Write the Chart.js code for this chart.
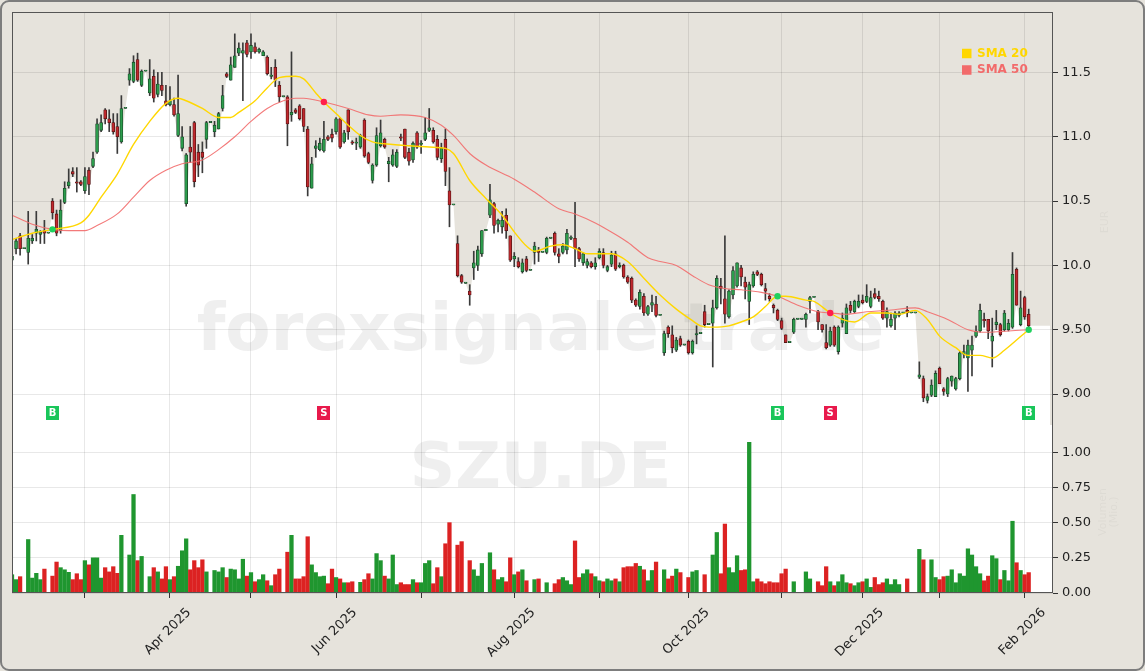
<!DOCTYPE html>
<html>
<head>
<meta charset="utf-8">
<title>SZU.DE</title>
<script src="https://cdn.jsdelivr.net/npm/chart.js@4.4.1/dist/chart.umd.min.js"></script>
<style>
html, body { margin: 0; padding: 0; background: #e6e3dc; }
canvas { display: block; }
</style>
</head>
<body>
<canvas id="myChart" width="1145" height="671"></canvas>
<script>
// trading calendar (Xetra)
const firstDay = '2025-02-05';
const lastDay = '2026-02-03';
const holidays = ['2025-04-18', '2025-04-21', '2025-05-01', '2025-12-24', '2025-12-25',
    '2025-12-26', '2025-12-31', '2026-01-01'];
const monthNames = ['Jan', 'Feb', 'Mar', 'Apr', 'May', 'Jun', 'Jul', 'Aug', 'Sep', 'Oct', 'Nov', 'Dec'];

const open = [
    10.04, 10.13, 10.23, 10.13, 10.10, 10.19, 10.25, 10.24, 10.27, 10.25,
    10.50, 10.40, 10.27, 10.49, 10.62, 10.73, 10.65, 10.65, 10.58, 10.74,
    10.77, 10.88, 11.05, 11.21, 11.14, 11.11, 11.08, 10.96, 11.22, 11.44,
    11.43, 11.60, 11.40, 11.51, 11.34, 11.47, 11.33, 11.40, 11.28, 11.25,
    11.25, 11.01, 10.91, 10.48, 10.92, 11.11, 10.88, 10.88, 10.98, 11.11,
    11.04, 11.06, 11.22, 11.49, 11.44, 11.54, 11.65, 11.65, 11.73, 11.66,
    11.70, 11.66, 11.63, 11.62, 11.47, 11.54, 11.40, 11.31, 11.31, 11.17,
    11.21, 11.24, 11.22, 11.06, 10.60, 10.91, 10.90, 10.89, 11.00, 11.02,
    11.04, 11.14, 10.96, 11.21, 10.96, 10.95, 10.92, 11.13, 10.87, 10.66,
    10.78, 10.93, 10.98, 10.79, 10.78, 10.77, 11.00, 11.06, 10.88, 10.82,
    11.03, 10.94, 10.98, 11.05, 11.05, 10.98, 10.83, 10.98, 10.58, 10.47,
    10.17, 9.92, 9.86, 9.80, 9.98, 10.00, 10.09, 10.27, 10.39, 10.48,
    10.32, 10.30, 10.39, 10.23, 10.05, 10.03, 9.95, 10.05, 9.96, 10.10,
    10.11, 10.10, 10.10, 10.21, 10.25, 10.09, 10.10, 10.12, 10.21, 10.21,
    10.13, 10.02, 10.00, 10.02, 9.99, 10.06, 10.10, 9.96, 10.01, 10.09,
    9.99, 10.00, 9.91, 9.90, 9.73, 9.68, 9.76, 9.62, 9.69, 9.70,
    9.61, 9.32, 9.52, 9.46, 9.34, 9.43, 9.38, 9.41, 9.32, 9.46,
    9.47, 9.64, 9.54, 9.55, 9.67, 9.84, 9.74, 9.60, 9.77, 9.84,
    9.98, 9.87, 9.72, 9.84, 9.95, 9.93, 9.82, 9.76, 9.69, 9.65,
    9.57, 9.46, 9.40, 9.48, 9.58, 9.58, 9.58, 9.72, 9.75, 9.64,
    9.54, 9.40, 9.38, 9.52, 9.33, 9.55, 9.47, 9.69, 9.64, 9.68,
    9.73, 9.72, 9.68, 9.78, 9.76, 9.72, 9.59, 9.53, 9.59, 9.61,
    9.63, 9.65, 9.63, 9.63, 9.13, 9.12, 8.95, 8.99, 8.98, 9.20,
    9.04, 9.00, 9.10, 9.04, 9.12, 9.31, 9.28, 9.34, 9.45, 9.49,
    9.58, 9.58, 9.41, 9.54, 9.54, 9.50, 9.50, 9.52, 9.97, 9.54,
    9.75, 9.62
];
const high = [
    10.10, 10.21, 10.25, 10.13, 10.42, 10.24, 10.42, 10.27, 10.35, 10.25,
    10.52, 10.43, 10.51, 10.65, 10.75, 10.76, 10.76, 10.66, 10.76, 10.76,
    10.88, 11.14, 11.17, 11.22, 11.21, 11.18, 11.18, 11.32, 11.22, 11.53,
    11.63, 11.65, 11.52, 11.51, 11.60, 11.52, 11.50, 11.50, 11.40, 11.39,
    11.30, 11.48, 11.08, 10.87, 11.08, 11.12, 10.94, 10.96, 11.12, 11.11,
    11.12, 11.19, 11.40, 11.50, 11.62, 11.80, 11.73, 11.73, 11.75, 11.80,
    11.73, 11.69, 11.67, 11.63, 11.54, 11.60, 11.43, 11.31, 11.32, 11.66,
    11.22, 11.25, 11.22, 11.08, 10.84, 10.97, 10.99, 11.12, 11.01, 11.06,
    11.15, 11.15, 11.05, 11.21, 10.97, 10.99, 11.02, 11.14, 10.88, 10.79,
    11.07, 11.13, 10.99, 10.84, 10.90, 10.90, 11.02, 11.06, 10.91, 10.96,
    11.04, 10.97, 11.15, 11.22, 11.07, 11.01, 10.95, 11.06, 10.76, 10.47,
    10.23, 9.93, 9.86, 9.85, 10.11, 10.15, 10.27, 10.27, 10.63, 10.49,
    10.36, 10.42, 10.44, 10.23, 10.10, 10.06, 10.05, 10.07, 9.96, 10.18,
    10.14, 10.10, 10.22, 10.21, 10.26, 10.13, 10.17, 10.28, 10.23, 10.49,
    10.14, 10.10, 10.05, 10.03, 10.06, 10.13, 10.13, 10.00, 10.11, 10.11,
    10.02, 10.01, 9.92, 9.91, 9.74, 9.81, 9.78, 9.69, 9.77, 9.76,
    9.61, 9.49, 9.53, 9.53, 9.44, 9.45, 9.38, 9.42, 9.42, 9.53,
    9.47, 9.69, 9.54, 9.73, 9.92, 9.90, 10.23, 9.81, 9.99, 10.02,
    10.00, 9.91, 9.87, 9.95, 9.96, 9.94, 9.86, 9.78, 9.70, 9.66,
    9.59, 9.46, 9.40, 9.59, 9.58, 9.58, 9.63, 9.76, 9.75, 9.65,
    9.54, 9.54, 9.52, 9.53, 9.53, 9.63, 9.70, 9.72, 9.73, 9.77,
    9.77, 9.85, 9.80, 9.82, 9.80, 9.73, 9.67, 9.63, 9.64, 9.64,
    9.63, 9.68, 9.63, 9.63, 9.25, 9.14, 9.00, 9.11, 9.18, 9.21,
    9.05, 9.13, 9.14, 9.13, 9.33, 9.38, 9.42, 9.45, 9.53, 9.70,
    9.63, 9.58, 9.59, 9.65, 9.55, 9.65, 9.58, 10.10, 9.98, 9.80,
    9.76, 9.66
];
const low = [
    10.02, 10.09, 10.08, 10.13, 10.01, 10.17, 10.19, 10.17, 10.17, 10.25,
    10.36, 10.23, 10.25, 10.48, 10.60, 10.69, 10.57, 10.62, 10.56, 10.55,
    10.76, 10.87, 11.04, 11.10, 11.04, 11.02, 10.87, 10.95, 11.22, 11.40,
    11.42, 11.43, 11.39, 11.51, 11.32, 11.27, 11.31, 11.32, 11.24, 11.24,
    11.16, 11.00, 10.89, 10.46, 10.80, 10.61, 10.69, 10.72, 10.91, 11.11,
    11.00, 11.06, 11.20, 11.46, 11.44, 11.54, 11.63, 11.28, 11.62, 11.61,
    11.65, 11.65, 11.63, 11.48, 11.45, 11.39, 11.27, 11.31, 10.93, 11.12,
    11.18, 11.13, 11.04, 10.54, 10.60, 10.84, 10.89, 10.88, 10.97, 10.96,
    11.02, 10.91, 10.95, 10.98, 10.94, 10.90, 10.91, 10.84, 10.79, 10.64,
    10.77, 10.92, 10.91, 10.65, 10.77, 10.76, 10.97, 10.83, 10.78, 10.80,
    10.91, 10.87, 10.97, 11.04, 10.95, 10.82, 10.80, 10.62, 10.30, 10.47,
    9.91, 9.86, 9.86, 9.69, 9.89, 9.96, 10.07, 10.27, 10.37, 10.25,
    10.26, 10.25, 10.21, 10.03, 9.99, 9.98, 9.94, 9.95, 9.96, 10.01,
    10.03, 10.10, 10.09, 10.21, 10.08, 10.02, 10.09, 10.09, 10.20, 9.99,
    10.03, 10.00, 9.98, 9.98, 9.97, 10.05, 9.98, 9.95, 9.99, 9.96,
    9.98, 9.90, 9.86, 9.71, 9.68, 9.66, 9.61, 9.61, 9.64, 9.60,
    9.61, 9.30, 9.44, 9.32, 9.33, 9.37, 9.38, 9.31, 9.31, 9.39,
    9.47, 9.52, 9.54, 9.21, 9.66, 9.70, 9.55, 9.59, 9.74, 9.83,
    9.84, 9.74, 9.54, 9.83, 9.92, 9.84, 9.73, 9.72, 9.63, 9.57,
    9.50, 9.40, 9.40, 9.47, 9.58, 9.58, 9.52, 9.63, 9.75, 9.50,
    9.48, 9.35, 9.37, 9.37, 9.31, 9.52, 9.47, 9.63, 9.63, 9.67,
    9.70, 9.71, 9.67, 9.74, 9.72, 9.58, 9.52, 9.52, 9.50, 9.60,
    9.63, 9.60, 9.63, 9.63, 9.12, 8.94, 8.93, 8.98, 8.98, 9.08,
    8.99, 8.98, 9.06, 9.03, 9.11, 9.28, 9.02, 9.14, 9.44, 9.48,
    9.52, 9.43, 9.21, 9.50, 9.45, 9.49, 9.49, 9.51, 9.69, 9.53,
    9.58, 9.52
];
const close = [
    10.07, 10.19, 10.13, 10.13, 10.21, 10.21, 10.28, 10.26, 10.25, 10.25,
    10.41, 10.25, 10.43, 10.60, 10.65, 10.71, 10.64, 10.63, 10.69, 10.63,
    10.83, 11.10, 11.11, 11.14, 11.11, 11.04, 11.00, 11.22, 11.22, 11.49,
    11.58, 11.44, 11.51, 11.51, 11.45, 11.30, 11.41, 11.36, 11.25, 11.28,
    11.17, 11.18, 11.00, 10.86, 10.88, 10.65, 10.78, 10.84, 11.11, 11.11,
    11.09, 11.18, 11.32, 11.47, 11.56, 11.63, 11.69, 11.67, 11.64, 11.71,
    11.66, 11.68, 11.66, 11.49, 11.48, 11.44, 11.31, 11.31, 11.10, 11.19,
    11.19, 11.14, 11.08, 10.61, 10.79, 10.93, 10.95, 10.98, 10.98, 10.99,
    11.14, 10.92, 11.03, 11.04, 10.95, 10.95, 11.01, 10.85, 10.80, 10.78,
    11.01, 11.03, 10.92, 10.81, 10.86, 10.88, 10.99, 10.84, 10.81, 10.95,
    10.92, 10.95, 11.03, 11.07, 10.96, 10.84, 10.91, 10.73, 10.47, 10.47,
    9.92, 9.87, 9.86, 9.77, 10.02, 10.12, 10.27, 10.27, 10.51, 10.31,
    10.35, 10.35, 10.27, 10.04, 10.07, 9.99, 10.02, 9.96, 9.96, 10.15,
    10.10, 10.10, 10.21, 10.21, 10.10, 10.07, 10.15, 10.25, 10.22, 10.13,
    10.05, 10.09, 10.03, 9.99, 10.02, 10.11, 10.00, 9.99, 10.08, 9.97,
    10.00, 9.91, 9.87, 9.73, 9.69, 9.79, 9.63, 9.68, 9.71, 9.61,
    9.61, 9.47, 9.47, 9.36, 9.42, 9.38, 9.38, 9.32, 9.41, 9.47,
    9.47, 9.54, 9.54, 9.67, 9.90, 9.82, 9.62, 9.80, 9.96, 10.02,
    9.91, 9.83, 9.85, 9.93, 9.93, 9.85, 9.80, 9.74, 9.67, 9.58,
    9.51, 9.40, 9.40, 9.58, 9.58, 9.58, 9.62, 9.75, 9.75, 9.56,
    9.50, 9.36, 9.49, 9.38, 9.52, 9.59, 9.67, 9.65, 9.72, 9.72,
    9.71, 9.76, 9.75, 9.75, 9.74, 9.59, 9.64, 9.58, 9.63, 9.63,
    9.63, 9.63, 9.63, 9.63, 9.15, 8.97, 8.98, 9.07, 9.16, 9.08,
    9.02, 9.12, 9.14, 9.12, 9.32, 9.33, 9.38, 9.38, 9.49, 9.65,
    9.57, 9.49, 9.45, 9.56, 9.46, 9.63, 9.55, 9.93, 9.69, 9.67,
    9.60, 9.53
];
// volume in millions
const volume = [
    0.13, 0.095, 0.116, 0, 0.38, 0.106, 0.14, 0.095, 0.17, 0,
    0.12, 0.22, 0.18, 0.165, 0.147, 0.095, 0.137, 0.095, 0.23, 0.20,
    0.25, 0.25, 0.106, 0.18, 0.15, 0.187, 0.14, 0.41, 0, 0.27,
    0.70, 0.23, 0.26, 0, 0.116, 0.18, 0.15, 0.10, 0.187, 0.095,
    0.116, 0.19, 0.30, 0.385, 0.165, 0.23, 0.18, 0.236, 0.15, 0,
    0.16, 0.15, 0.18, 0.11, 0.17, 0.165, 0.10, 0.24, 0.12, 0.145,
    0.08, 0.095, 0.13, 0.087, 0.052, 0.13, 0.17, 0, 0.29, 0.41,
    0.10, 0.10, 0.116, 0.40, 0.20, 0.145, 0.116, 0.12, 0.066, 0.17,
    0.11, 0.10, 0.073, 0.073, 0.08, 0, 0.076, 0.095, 0.137, 0.10,
    0.28, 0.23, 0.12, 0.10, 0.27, 0.06, 0.073, 0.06, 0.06, 0.095,
    0.073, 0.073, 0.21, 0.23, 0.066, 0.18, 0.116, 0.35, 0.50, 0,
    0.34, 0.365, 0, 0.23, 0.165, 0.12, 0.21, 0, 0.286, 0.165,
    0.095, 0.11, 0.08, 0.25, 0.13, 0.15, 0.165, 0.087, 0, 0.095,
    0.10, 0, 0.073, 0, 0.066, 0.095, 0.11, 0.087, 0.06, 0.37,
    0.11, 0.137, 0.165, 0.137, 0.116, 0.087, 0.08, 0.10, 0.087, 0.10,
    0.08, 0.18, 0.187, 0.187, 0.21, 0.19, 0.165, 0.087, 0.16, 0.22,
    0, 0.165, 0.10, 0.12, 0.17, 0.145, 0, 0.11, 0.15, 0.16,
    0, 0.13, 0, 0.27, 0.43, 0.137, 0.49, 0.18, 0.145, 0.265,
    0.16, 0.165, 1.07, 0.08, 0.10, 0.08, 0.066, 0.08, 0.073, 0.073,
    0.137, 0.17, 0, 0.08, 0, 0, 0.15, 0.10, 0, 0.08,
    0.052, 0.187, 0.08, 0.052, 0.08, 0.13, 0.073, 0.066, 0.052, 0.073,
    0.08, 0.10, 0.04, 0.11, 0.06, 0.073, 0.10, 0.06, 0.095, 0.06,
    0, 0.10, 0, 0, 0.31, 0.236, 0, 0.236, 0.11, 0.095,
    0.116, 0.12, 0.165, 0.073, 0.137, 0.12, 0.314, 0.27, 0.187, 0.137,
    0.087, 0.12, 0.265, 0.244, 0.095, 0.16, 0.087, 0.51, 0.215, 0.16,
    0.13, 0.145
];

// moving averages (day index -> value)
const sma20Idx = [0, 5, 10, 17, 19, 22, 26, 30, 34, 38, 41, 43, 47, 51, 54, 56, 60, 63, 66, 70,
    72, 75, 77, 80, 83, 86, 89, 94, 98, 103, 107, 109, 113, 117, 121, 124, 127, 129, 133, 136,
    139, 142, 148, 152, 156, 160, 164, 168, 170, 173, 177, 180, 183, 186, 189, 191, 196, 198, 202, 205,
    208, 212, 216, 219, 223, 226, 229, 233, 236, 239, 242, 245, 248, 251];
const sma20Val = [10.20, 10.25, 10.28, 10.33, 10.39, 10.53, 10.71, 10.94, 11.12, 11.26, 11.30, 11.28, 11.22, 11.15, 11.15, 11.19, 11.28, 11.38, 11.46, 11.47,
    11.45, 11.34, 11.27, 11.18, 11.09, 11.01, 10.96, 10.94, 10.93, 10.92, 10.91, 10.87, 10.66, 10.52, 10.39, 10.26, 10.15, 10.11, 10.15, 10.16,
    10.13, 10.09, 10.09, 10.03, 9.90, 9.77, 9.66, 9.57, 9.53, 9.52, 9.53, 9.56, 9.60, 9.68, 9.76, 9.76, 9.73, 9.72, 9.63, 9.58,
    9.56, 9.63, 9.63, 9.62, 9.65, 9.58, 9.45, 9.36, 9.30, 9.30, 9.28, 9.34, 9.42, 9.50];
const sma50Idx = [0, 5, 10, 14, 18, 21, 26, 30, 34, 38, 42, 47, 51, 55, 59, 63, 67, 70, 72, 77,
    83, 88, 91, 96, 102, 106, 109, 113, 117, 124, 129, 135, 139, 144, 149, 152, 157, 160, 164, 168,
    172, 176, 180, 185, 189, 194, 199, 202, 206, 211, 216, 223, 226, 231, 236, 241, 246, 251];
const sma50Val = [10.39, 10.32, 10.28, 10.27, 10.27, 10.31, 10.40, 10.53, 10.66, 10.74, 10.79, 10.82, 10.90, 11.00, 11.12, 11.22, 11.28, 11.30, 11.30, 11.27,
    11.22, 11.17, 11.16, 11.17, 11.15, 11.09, 11.01, 10.87, 10.78, 10.67, 10.57, 10.44, 10.40, 10.33, 10.24, 10.18, 10.06, 10.03, 10.00, 9.92,
    9.85, 9.82, 9.81, 9.79, 9.76, 9.69, 9.64, 9.63, 9.62, 9.64, 9.65, 9.67, 9.64, 9.58, 9.50, 9.48, 9.49, 9.50];

// crossover signals
const signalIdx = [10, 77, 189, 202, 251];
const signalSide = ['B', 'S', 'B', 'S', 'B'];
const signalPrice = [10.28, 11.27, 9.76, 9.63, 9.50];
const signalLevel = 8.85;

const priceTicks = [9.0, 9.5, 10.0, 10.5, 11.0, 11.5];
const volumeTicks = [0, 0.25, 0.5, 0.75, 1.0];

// ---------------------------------------------------------------
function tradingDays(a, b) {
    const out = [];
    const d = new Date(a + 'T00:00:00Z');
    const end = new Date(b + 'T00:00:00Z');
    while (d <= end) {
        const s = d.toISOString().slice(0, 10);
        const wd = d.getUTCDay();
        if (wd !== 0 && wd !== 6 && !holidays.includes(s)) out.push(s);
        d.setUTCDate(d.getUTCDate() + 1);
    }
    return out;
}
const dates = tradingDays(firstDay, lastDay);
const labels = dates.concat(['', '', '', '', '', '']);
const monthStarts = dates.map((s, i) => i).filter(i => i > 0 && dates[i].slice(0, 7) !== dates[i - 1].slice(0, 7));
function monthLabel(i) {
    const m = Number(dates[i].slice(5, 7));
    return m % 2 === 0 ? monthNames[m - 1] + ' ' + dates[i].slice(0, 4) : '';
}

const n = close.length;
const up = close.map((c, i) => c >= open[i]);
const sparse = (idx, vals) => {
    const arr = new Array(n).fill(null);
    idx.forEach((k, j) => { arr[k] = vals[j]; });
    return arr;
};

const FONT = "'DejaVu Sans', sans-serif";
const BEIGE = '#e6e3dc';
const GRID = 'rgba(0, 0, 0, 0.09)';
Chart.defaults.font.family = FONT;
Chart.defaults.font.size = 13;
Chart.defaults.color = '#222';

const background = {
    id: 'background',
    beforeDraw(chart) {
        const {ctx: g, chartArea: a, scales} = chart;
        const x = scales.x, y = scales.y;
        g.save();
        g.fillStyle = BEIGE;
        g.fillRect(0, 0, chart.width, chart.height);
        g.beginPath();
        g.moveTo(a.left, a.bottom);
        for (let i = 0; i < n; i++) {
            g.lineTo(x.getPixelForValue(i), y.getPixelForValue(Math.min(open[i], close[i])));
        }
        g.lineTo(a.right - 3, y.getPixelForValue(Math.min(open[n - 1], close[n - 1])));
        g.lineTo(a.right - 3, scales.yv.top);
        g.lineTo(a.right, scales.yv.top);
        g.lineTo(a.right, a.bottom);
        g.closePath();
        g.fillStyle = '#ffffff';
        g.fill();
        g.strokeStyle = '#7d7d7d';
        g.lineWidth = 2;
        g.beginPath();
        g.roundRect(1, 1, chart.width - 2, chart.height - 2, 8);
        g.stroke();
        g.restore();
    },
    beforeDatasetsDraw(chart) {
        const {ctx: g, chartArea: a} = chart;
        const cx = (a.left + a.right) / 2 + 8;
        g.save();
        g.fillStyle = 'rgba(110, 110, 110, 0.11)';
        g.textAlign = 'center';
        g.textBaseline = 'alphabetic';
        g.font = "bold 66px " + FONT;
        g.fillText('forexsignale.trade', cx, 350);
        g.font = "bold 63px " + FONT;
        g.fillText('SZU.DE', cx, 487);
        g.restore();
    },
    afterDatasetsDraw(chart) {
        const {ctx: g, chartArea: a, scales} = chart;
        g.save();
        // buy / sell tags
        g.font = "bold 10px " + FONT;
        g.textAlign = 'center';
        g.textBaseline = 'middle';
        signalIdx.forEach((k, j) => {
            const px = scales.x.getPixelForValue(k);
            const py = scales.y.getPixelForValue(signalLevel);
            g.fillStyle = signalSide[j] === 'B' ? '#19c65a' : '#e8194b';
            g.fillRect(Math.round(px - 6.5), Math.round(py - 7), 13, 14);
            g.fillStyle = '#ffffff';
            g.fillText(signalSide[j], px, py + 0.5);
        });
        // frame of the axes
        g.strokeStyle = '#555';
        g.lineWidth = 1;
        g.strokeRect(a.left + 0.5, a.top + 0.5, a.right - a.left - 1, a.bottom - a.top - 1);
        // legend
        g.font = "bold 12px " + FONT;
        g.textAlign = 'left';
        [['SMA 20', '#FFD700', 53.5], ['SMA 50', '#F26B6B', 70]].forEach(([t, c, yy]) => {
            g.fillStyle = c;
            g.fillRect(a.right - 91, yy - 4.75, 9.5, 9.5);
            g.fillText(t, a.right - 76, yy);
        });
        // faint axis titles
        g.fillStyle = 'rgba(0, 0, 0, 0.035)';
        g.font = "11px " + FONT;
        g.textAlign = 'center';
        g.translate(1105, 222);
        g.rotate(-Math.PI / 2);
        g.fillText('EUR', 0, 0);
        g.rotate(Math.PI / 2);
        g.translate(-2, 290);
        g.rotate(-Math.PI / 2);
        g.fillText('Volumen', 0, 0);
        g.fillText('(Mio.)', 0, 11);
        g.restore();
    }
};

const ctx = document.getElementById('myChart').getContext('2d');

const myChart = new Chart(ctx, {
    type: 'bar',
    data: {
        labels: labels,
        datasets: [
            {
                type: 'line',
                label: 'Signal',
                data: sparse(signalIdx, signalPrice),
                showLine: false,
                pointRadius: 3.2,
                pointBorderWidth: 0,
                pointBackgroundColor: sparse(signalIdx, signalSide.map(s => s === 'B' ? '#1fd15e' : '#ff1f4b')),
                yAxisID: 'y',
                order: -1
            },
            {
                type: 'line',
                label: 'SMA 20',
                data: sparse(sma20Idx, sma20Val),
                borderColor: '#FFD700',
                borderWidth: 1.4,
                pointRadius: 0,
                spanGaps: true,
                cubicInterpolationMode: 'monotone',
                yAxisID: 'y',
                order: 0
            },
            {
                type: 'line',
                label: 'SMA 50',
                data: sparse(sma50Idx, sma50Val),
                borderColor: 'rgba(242, 107, 107, 0.9)',
                borderWidth: 1.1,
                pointRadius: 0,
                spanGaps: true,
                cubicInterpolationMode: 'monotone',
                yAxisID: 'y',
                order: 0
            },
            {
                label: 'Kerze',
                data: open.map((o, i) => [Math.min(o, close[i]), Math.max(o, close[i])]),
                backgroundColor: up.map(u => u ? '#2c9d4c' : '#c0282d'),
                borderColor: up.map(u => u ? '#1b4b2a' : '#561515'),
                borderWidth: 0.8,
                borderSkipped: false,
                barThickness: 3,
                minBarLength: 1.2,
                grouped: false,
                yAxisID: 'y',
                order: 1
            },
            {
                label: 'Docht',
                data: low.map((l, i) => [l, high[i]]),
                backgroundColor: '#3a3a3a',
                barThickness: 1,
                grouped: false,
                yAxisID: 'y',
                order: 2
            },
            {
                label: 'Volumen',
                data: volume,
                backgroundColor: up.map(u => u ? '#1f962f' : '#dc2222'),
                barThickness: 3.6,
                grouped: false,
                yAxisID: 'yv',
                order: 3
            }
        ]
    },
    options: {
        responsive: false,
        maintainAspectRatio: false,
        animation: false,
        devicePixelRatio: 1,
        layout: {padding: {left: 12, top: 12, right: 0, bottom: 0}},
        scales: {
            x: {
                type: 'category',
                offset: false,
                grid: {offset: false, color: GRID, tickLength: 5, tickColor: '#333'},
                border: {display: false},
                afterBuildTicks: s => { s.ticks = monthStarts.map(i => ({value: i})); },
                ticks: {
                    autoSkip: false,
                    minRotation: 45,
                    maxRotation: 45,
                    padding: 7,
                    labelOffset: 19,
                    color: '#222',
                    callback: v => monthLabel(v)
                },
                afterFit: s => { s.height = 78; }
            },
            y: {
                type: 'linear',
                position: 'right',
                stack: 'panels',
                stackWeight: 413,
                min: 8.759,
                max: 11.97,
                grid: {color: GRID, tickLength: 5, tickColor: '#333'},
                border: {display: false},
                afterBuildTicks: s => { s.ticks = priceTicks.map(v => ({value: v})); },
                ticks: {padding: 4, color: '#222', callback: v => Number(v).toPrecision(3)},
                afterFit: s => { s.width = 92; }
            },
            yv: {
                type: 'linear',
                position: 'right',
                stack: 'panels',
                stackWeight: 168,
                min: 0,
                max: 1.194,
                grid: {color: GRID, tickLength: 5, tickColor: '#333'},
                border: {display: false},
                afterBuildTicks: s => { s.ticks = volumeTicks.map(v => ({value: v})); },
                ticks: {padding: 4, color: '#222', callback: v => Number(v).toFixed(2)},
                afterFit: s => { s.width = 92; }
            }
        },
        plugins: {
            legend: {display: false},
            tooltip: {enabled: false}
        }
    },
    plugins: [background]
});
</script>
</body>
</html>
